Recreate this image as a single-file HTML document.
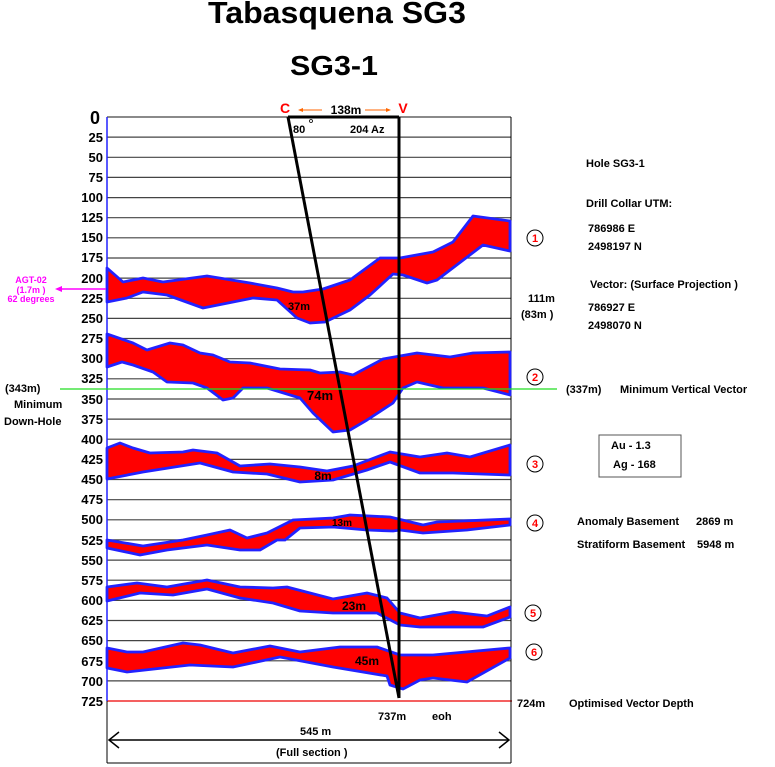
<!DOCTYPE html>
<html><head><meta charset="utf-8"><style>
html,body{margin:0;padding:0;background:#fff;}
svg{display:block;font-family:"Liberation Sans",Arial,sans-serif;font-weight:bold;}
</style></head><body>
<svg width="775" height="767" viewBox="0 0 775 767" xmlns="http://www.w3.org/2000/svg">
<rect width="775" height="767" fill="#fff"/>
<text x="337" y="23" font-size="31" text-anchor="middle" textLength="258" lengthAdjust="spacingAndGlyphs">Tabasquena SG3</text>
<text x="334" y="75" font-size="28" text-anchor="middle" textLength="88" lengthAdjust="spacingAndGlyphs">SG3-1</text>

<g stroke="#444" stroke-width="1.2">
<line x1="107" y1="117.0" x2="511" y2="117.0"/><line x1="107" y1="137.1" x2="511" y2="137.1"/><line x1="107" y1="157.3" x2="511" y2="157.3"/><line x1="107" y1="177.4" x2="511" y2="177.4"/><line x1="107" y1="197.6" x2="511" y2="197.6"/><line x1="107" y1="217.7" x2="511" y2="217.7"/><line x1="107" y1="237.8" x2="511" y2="237.8"/><line x1="107" y1="258.0" x2="511" y2="258.0"/><line x1="107" y1="278.1" x2="511" y2="278.1"/><line x1="107" y1="298.3" x2="511" y2="298.3"/><line x1="107" y1="318.4" x2="511" y2="318.4"/><line x1="107" y1="338.5" x2="511" y2="338.5"/><line x1="107" y1="358.7" x2="511" y2="358.7"/><line x1="107" y1="378.8" x2="511" y2="378.8"/><line x1="107" y1="399.0" x2="511" y2="399.0"/><line x1="107" y1="419.1" x2="511" y2="419.1"/><line x1="107" y1="439.2" x2="511" y2="439.2"/><line x1="107" y1="459.4" x2="511" y2="459.4"/><line x1="107" y1="479.5" x2="511" y2="479.5"/><line x1="107" y1="499.7" x2="511" y2="499.7"/><line x1="107" y1="519.8" x2="511" y2="519.8"/><line x1="107" y1="539.9" x2="511" y2="539.9"/><line x1="107" y1="560.1" x2="511" y2="560.1"/><line x1="107" y1="580.2" x2="511" y2="580.2"/><line x1="107" y1="600.4" x2="511" y2="600.4"/><line x1="107" y1="620.5" x2="511" y2="620.5"/><line x1="107" y1="640.6" x2="511" y2="640.6"/><line x1="107" y1="660.8" x2="511" y2="660.8"/><line x1="107" y1="680.9" x2="511" y2="680.9"/>
</g>
<line x1="107" y1="701" x2="512" y2="701" stroke="#e00" stroke-width="1.2"/>
<line x1="107" y1="117" x2="107" y2="763" stroke="#000" stroke-width="1"/>
<line x1="107" y1="117" x2="107" y2="701" stroke="#22f" stroke-width="1.5"/>
<line x1="511" y1="117" x2="511" y2="763" stroke="#000" stroke-width="1"/>
<line x1="107" y1="763" x2="511" y2="763" stroke="#000" stroke-width="1"/>

<g font-size="13" text-anchor="end">
<text x="100" y="124" font-size="18">0</text>
<text x="103" y="142">25</text><text x="103" y="162">50</text><text x="103" y="182">75</text><text x="103" y="202">100</text><text x="103" y="222">125</text><text x="103" y="242">150</text><text x="103" y="262">175</text><text x="103" y="283">200</text><text x="103" y="303">225</text><text x="103" y="323">250</text><text x="103" y="343">275</text><text x="103" y="363">300</text><text x="103" y="383">325</text><text x="103" y="404">350</text><text x="103" y="424">375</text><text x="103" y="444">400</text><text x="103" y="464">425</text><text x="103" y="484">450</text><text x="103" y="504">475</text><text x="103" y="524">500</text><text x="103" y="545">525</text><text x="103" y="565">550</text><text x="103" y="585">575</text><text x="103" y="605">600</text><text x="103" y="625">625</text><text x="103" y="645">650</text><text x="103" y="666">675</text><text x="103" y="686">700</text><text x="103" y="706">725</text>
</g>

<g fill="#f00" stroke="#22f" stroke-width="2.8" stroke-linejoin="round">
<polygon points="107,268 123,282 143,278 163,282 207,276 250,283 277,288 293,292 303,292 323,289 350,280 380,258 400,258 433,252 453,242 473,216 510,221 510,251 483,245 437,280 427,283 403,275 393,274 370,295 350,310 325,322 310,323 297,318 277,300 253,298 233,302 203,308 167,295 143,292 127,298 107,302"/>
<polygon points="107,334 133,343 147,350 170,343 183,345 200,353 213,355 230,362 250,363 280,369 310,370 320,373 340,372 353,375 383,359 400,356 417,353 450,357 473,353 510,352 510,395 483,388 443,388 417,382 403,388 393,403 367,420 350,430 333,432 313,413 300,398 267,388 243,388 233,398 223,400 207,388 193,383 167,382 153,372 133,365 122,362 107,367"/>
<polygon points="107,448 120,443 133,448 150,453 183,452 193,450 217,453 240,466 270,464 300,467 327,471 353,466 390,452 420,457 447,453 470,457 510,445 510,475 453,473 420,473 390,462 367,470 333,480 300,482 267,474 233,472 200,463 143,472 107,479"/>
<polygon points="107,540 143,546 183,540 207,535 230,530 247,538 267,533 293,520 333,518 350,515 390,517 423,525 437,522 510,519 510,525 467,530 423,533 400,530 393,531 367,530 333,527 300,528 285,540 277,540 260,550 240,550 207,545 167,550 140,555 107,548"/>
<polygon points="107,587 137,583 167,587 207,580 240,587 273,588 287,587 333,599 367,593 387,598 400,613 420,618 453,612 487,616 510,607 510,617 483,627 420,627 400,625 377,613 333,613 300,611 273,603 240,598 207,589 173,595 140,593 107,601"/>
<polygon points="107,648 127,652 143,652 183,643 200,645 233,653 270,646 300,652 340,647 377,647 400,655 433,655 510,648 510,658 467,682 433,678 420,680 403,689 390,685 387,676 333,667 280,657 233,667 190,665 127,672 107,668"/>
</g>

<line x1="288" y1="117" x2="399" y2="117" stroke="#000" stroke-width="3"/>
<line x1="288" y1="117" x2="399" y2="698" stroke="#000" stroke-width="3"/>
<line x1="399" y1="117" x2="399" y2="698" stroke="#000" stroke-width="3"/>

<text x="285" y="113" font-size="14" fill="#f00" text-anchor="middle">C</text>
<text x="403" y="113" font-size="14" fill="#f00" text-anchor="middle">V</text>
<line x1="299" y1="110" x2="322" y2="110" stroke="#f60" stroke-width="1"/><polygon points="298,110 303,108 303,112" fill="#f60"/>
<line x1="365" y1="110" x2="390" y2="110" stroke="#f60" stroke-width="1"/><polygon points="391,110 386,108 386,112" fill="#f60"/>
<text x="346" y="114" font-size="12" text-anchor="middle">138m</text>
<text x="293" y="133" font-size="11">80</text><circle cx="311" cy="121" r="1.5" fill="none" stroke="#000" stroke-width="0.8"/>
<text x="350" y="133" font-size="11">204 Az</text>

<g font-size="11" text-anchor="middle">
<text x="299" y="310">37m</text>
<text x="320" y="400" font-size="13">74m</text>
<text x="323" y="480" font-size="12">8m</text>
<text x="342" y="526" font-size="10">13m</text>
<text x="354" y="610" font-size="12">23m</text>
<text x="367" y="665" font-size="12">45m</text>
</g>

<line x1="60" y1="389" x2="557" y2="389" stroke="#2d2" stroke-width="1.2"/>
<g font-size="11">
<text x="5" y="392">(343m)</text><text x="14" y="408">Minimum</text><text x="4" y="425">Down-Hole</text>
<text x="566" y="393">(337m)</text><text x="620" y="393">Minimum Vertical Vector</text>
<text x="586" y="167">Hole SG3-1</text>
<text x="586" y="207">Drill Collar UTM:</text>
<text x="588" y="232">786986 E</text><text x="588" y="250">2498197 N</text>
<text x="590" y="288">Vector: (Surface Projection )</text>
<text x="528" y="302">111m</text><text x="521" y="318">(83m )</text>
<text x="588" y="311">786927 E</text><text x="588" y="329">2498070 N</text>
<text x="611" y="449">Au   -    1.3</text><text x="613" y="468">Ag   -   168</text>
<text x="577" y="525">Anomaly Basement</text><text x="696" y="525">2869 m</text>
<text x="577" y="548">Stratiform Basement</text><text x="697" y="548">5948 m</text>
<text x="517" y="707">724m</text><text x="569" y="707">Optimised Vector Depth</text>
<text x="378" y="720">737m</text><text x="432" y="720">eoh</text>
<text x="300" y="735">545 m</text>
<text x="276" y="756">(Full section )</text>
</g>
<rect x="599" y="435" width="82" height="42" fill="none" stroke="#555" stroke-width="1"/>

<g fill="none" stroke="#000" stroke-width="1">
<circle cx="535" cy="238" r="8"/><circle cx="535" cy="377" r="8"/><circle cx="535" cy="464" r="8"/><circle cx="535" cy="523" r="8"/><circle cx="533" cy="613" r="8"/><circle cx="534" cy="652" r="8"/>
</g>
<g font-size="11" fill="#f00" text-anchor="middle">
<text x="535" y="242">1</text><text x="535" y="381">2</text><text x="535" y="468">3</text><text x="535" y="527">4</text><text x="533" y="617">5</text><text x="534" y="656">6</text>
</g>

<line x1="109" y1="740" x2="509" y2="740" stroke="#000" stroke-width="1.5"/>
<polyline points="119,732 109,740 119,748" fill="none" stroke="#000" stroke-width="1.5"/>
<polyline points="499,732 509,740 499,748" fill="none" stroke="#000" stroke-width="1.5"/>

<g fill="#f0f" font-size="9" text-anchor="middle">
<text x="31" y="283">AGT-02</text><text x="31" y="293">(1.7m )</text><text x="31" y="302">62 degrees</text>
</g>
<line x1="60" y1="289" x2="106" y2="289" stroke="#f0f" stroke-width="1.5"/>
<polygon points="55,289 62,286 62,292" fill="#f0f"/>
</svg>
</body></html>
